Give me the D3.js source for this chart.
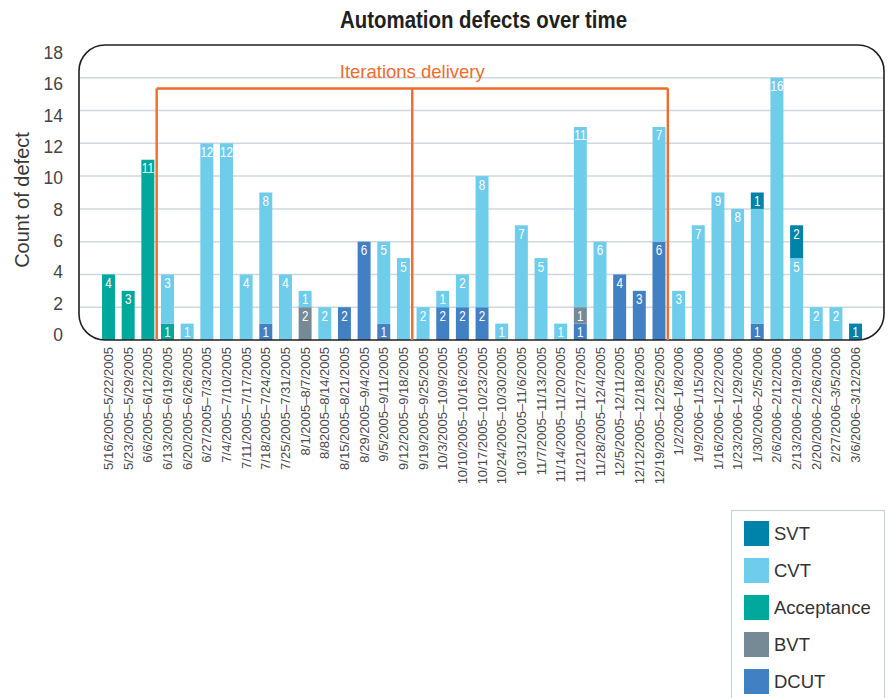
<!DOCTYPE html>
<html>
<head>
<meta charset="utf-8">
<script src="https://cdn.jsdelivr.net/npm/d3@7"></script>
<style>
  html, body { margin: 0; padding: 0; background: #fff; }
  svg { display: block; }
</style>
</head>
<body>
<svg id="chart" width="892" height="698"></svg>
<script>
// Weekly automation defect counts, stacked by test suite
const weeks = [
  "5/16/2005–5/22/2005", "5/23/2005–5/29/2005", "6/6/2005–6/12/2005", "6/13/2005–6/19/2005",
  "6/20/2005–6/26/2005", "6/27/2005–7/3/2005", "7/4/2005–7/10/2005", "7/11/2005–7/17/2005",
  "7/18/2005–7/24/2005", "7/25/2005–7/31/2005", "8/1/2005–8/7/2005", "8/82005–8/14/2005",
  "8/15/2005–8/21/2005", "8/29/2005–9/4/2005", "9/5/2005–9/11/2005", "9/12/2005–9/18/2005",
  "9/19/2005–9/25/2005", "10/3/2005–10/9/2005", "10/10/2005–10/16/2005", "10/17/2005–10/23/2005",
  "10/24/2005–10/30/2005", "10/31/2005–11/6/2005", "11/7/2005–11/13/2005", "11/14/2005–11/20/2005",
  "11/21/2005–11/27/2005", "11/28/2005–12/4/2005", "12/5/2005–12/11/2005", "12/12/2005–12/18/2005",
  "12/19/2005–12/25/2005", "1/2/2006–1/8/2006", "1/9/2006–1/15/2006", "1/16/2006–1/22/2006",
  "1/23/2006–1/29/2006", "1/30/2006–2/5/2006", "2/6/2006–2/12/2006", "2/13/2006–2/19/2006",
  "2/20/2006–2/26/2006", "2/27/2006–3/5/2006", "3/6/2006–3/12/2006"
];

const dcut       = [0,0,0,0, 0,0,0,0, 1,0,0,0, 2,6,1,0, 0,2,2,2, 0,0,0,0, 1,0,4,3, 6,0,0,0, 0,1,0,0, 0,0,0];
const bvt        = [0,0,0,0, 0,0,0,0, 0,0,2,0, 0,0,0,0, 0,0,0,0, 0,0,0,0, 1,0,0,0, 0,0,0,0, 0,0,0,0, 0,0,0];
const acceptance = [4,3,11,1, 0,0,0,0, 0,0,0,0, 0,0,0,0, 0,0,0,0, 0,0,0,0, 0,0,0,0, 0,0,0,0, 0,0,0,0, 0,0,0];
const cvt        = [0,0,0,3, 1,12,12,4, 8,4,1,2, 0,0,5,5, 2,1,2,8, 1,7,5,1, 11,6,0,0, 7,3,7,9, 8,7,16,5, 2,2,0];
const svt        = [0,0,0,0, 0,0,0,0, 0,0,0,0, 0,0,0,0, 0,0,0,0, 0,0,0,0, 0,0,0,0, 0,0,0,0, 0,1,0,2, 0,0,1];

// Segments shown without a value label
const unlabeled = [["1/30/2006–2/5/2006", "CVT"]];

// Stack order from the baseline upward; the legend lists it top-down
const seriesNames = ["DCUT", "BVT", "Acceptance", "CVT", "SVT"];
const seriesValues = [dcut, bvt, acceptance, cvt, svt];
const seriesColors = ["#4280c4", "#758a94", "#00a99c", "#6fcdec", "#0083a8"];

const yTicks = [0, 2, 4, 6, 8, 10, 12, 14, 16, 18];
const iterationBreaks = ["6/13/2005–6/19/2005", "9/19/2005–9/25/2005", "1/2/2006–1/8/2006"];
const iterationTop = 15.35;

const rows = weeks.map((w, i) => {
  const r = { week: w };
  seriesNames.forEach((s, k) => { r[s] = seriesValues[k][i]; });
  return r;
});

const svg = d3.select("#chart");
const sans = "'Liberation Sans', Arial, Helvetica, sans-serif";

const frame = { left: 79, right: 884, top: 45, bottom: 340, r: 26 };

const x = d3.scaleBand()
  .domain(weeks)
  .range([98.7, 865.4])
  .paddingInner(0.34)
  .paddingOuter(0.17);

const y = d3.scaleLinear().domain([0, 18]).range([frame.bottom, frame.top]);
// tick labels sit on a slightly tighter scale than the gridlines
const yLabel = d3.scaleLinear().domain([0, 18]).range([335, 53]);

const color = d3.scaleOrdinal().domain(seriesNames).range(seriesColors);

// Title (condensed bold)
svg.append("text")
  .attr("x", 340)
  .attr("y", 28)
  .attr("textLength", 287)
  .attr("lengthAdjust", "spacingAndGlyphs")
  .style("font-family", sans)
  .style("font-weight", "bold")
  .style("font-size", "24px")
  .style("fill", "#231f20")
  .text("Automation defects over time");

// Gridlines
svg.append("g")
  .selectAll("line")
  .data(yTicks.filter(t => t > 0 && t < 18))
  .join("line")
  .attr("x1", frame.left)
  .attr("x2", frame.right)
  .attr("y1", d => y(d))
  .attr("y2", d => y(d))
  .attr("stroke", "#cfd8df")
  .attr("stroke-width", 1.5);

// Stacked bars
const stack = d3.stack().keys(seriesNames);
const stacked = stack(rows);

const layers = svg.append("g")
  .selectAll("g")
  .data(stacked)
  .join("g")
  .attr("fill", d => color(d.key));

layers.selectAll("rect")
  .data(d => d.filter(s => s[1] - s[0] > 0))
  .join("rect")
  .attr("x", d => x(d.data.week))
  .attr("width", x.bandwidth())
  .attr("y", d => y(d[1]))
  .attr("height", d => y(d[0]) - y(d[1]));

// Value labels inside each segment, horizontally condensed
const isUnlabeled = (week, key) => unlabeled.some(u => u[0] === week && u[1] === key);

layers.selectAll("text")
  .data(function(d) {
    const key = d.key;
    return d.filter(s => s[1] - s[0] > 0 && !isUnlabeled(s.data.week, key))
      .map(s => ({ s, key }));
  })
  .join("text")
  .attr("transform", d =>
    `translate(${x(d.s.data.week) + x.bandwidth() / 2},${y(d.s[1]) + 13.5}) scale(0.8,1)`)
  .attr("text-anchor", "middle")
  .style("font-family", sans)
  .style("font-size", "14.5px")
  .style("fill", "#ffffff")
  .text(d => d.s.data[d.key]);

// Rounded plot frame
svg.append("rect")
  .attr("x", frame.left)
  .attr("y", frame.top)
  .attr("width", frame.right - frame.left)
  .attr("height", frame.bottom - frame.top)
  .attr("rx", frame.r)
  .attr("ry", frame.r)
  .attr("fill", "none")
  .attr("stroke", "#231f20")
  .attr("stroke-width", 1.6);

// Y axis tick labels
const yAxis = svg.append("g")
  .attr("transform", "translate(63,0)")
  .call(d3.axisLeft(yLabel).tickValues(yTicks).tickSize(0).tickPadding(0));
yAxis.select(".domain").remove();
yAxis.selectAll("text")
  .style("font-family", sans)
  .style("font-size", "17.5px")
  .style("fill", "#444");

// Y axis title
svg.append("text")
  .attr("transform", "translate(29,200) rotate(-90)")
  .attr("text-anchor", "middle")
  .style("font-family", sans)
  .style("font-size", "20px")
  .style("fill", "#3a3a3a")
  .text("Count of defect");

// X axis labels, rotated
const xAxis = svg.append("g")
  .attr("transform", `translate(0,${frame.bottom + 7})`)
  .call(d3.axisBottom(x).tickSize(0).tickPadding(0));
xAxis.select(".domain").remove();
xAxis.selectAll("text")
  .attr("transform", "rotate(-90)")
  .attr("text-anchor", "end")
  .attr("x", 0)
  .attr("y", 0)
  .attr("dx", 0)
  .attr("dy", "0.35em")
  .style("font-family", sans)
  .style("font-size", "13px")
  .style("fill", "#4a4a4a");

// Iteration delivery bracket
const breakX = w => x(w) - x.step() * x.paddingInner() / 2 - 1;
const bx = iterationBreaks.map(breakX);
const bracket = svg.append("g")
  .attr("fill", "none")
  .attr("stroke", "#f26a2c")
  .attr("stroke-width", 2.4);
bracket.append("line")
  .attr("x1", bx[0]).attr("x2", bx[bx.length - 1])
  .attr("y1", y(iterationTop)).attr("y2", y(iterationTop));
bracket.selectAll("line.v")
  .data(bx)
  .join("line")
  .attr("class", "v")
  .attr("x1", d => d).attr("x2", d => d)
  .attr("y1", y(iterationTop)).attr("y2", y(0));

svg.append("text")
  .attr("x", bx[1])
  .attr("y", 78)
  .attr("text-anchor", "middle")
  .style("font-family", sans)
  .style("font-size", "18.5px")
  .style("fill", "#f26a2c")
  .text("Iterations delivery");

// Legend
const legendOrder = seriesNames.slice().reverse();
const legend = svg.append("g");
legend.append("rect")
  .attr("x", 731.5)
  .attr("y", 510.5)
  .attr("width", 153)
  .attr("height", 220)
  .attr("fill", "#fff")
  .attr("stroke", "#c9d4dc")
  .attr("stroke-width", 1.2);

const legendY = d3.scalePoint().domain(legendOrder).range([521, 669]);
const item = legend.selectAll("g.item")
  .data(legendOrder)
  .join("g")
  .attr("class", "item")
  .attr("transform", d => `translate(744,${legendY(d)})`);
item.append("rect")
  .attr("width", 25)
  .attr("height", 25)
  .attr("fill", d => color(d));
item.append("text")
  .attr("x", 30)
  .attr("y", 12.5)
  .attr("dy", "0.35em")
  .style("font-family", sans)
  .style("font-size", "18.5px")
  .style("fill", "#333")
  .text(d => d);
</script>
</body>
</html>
